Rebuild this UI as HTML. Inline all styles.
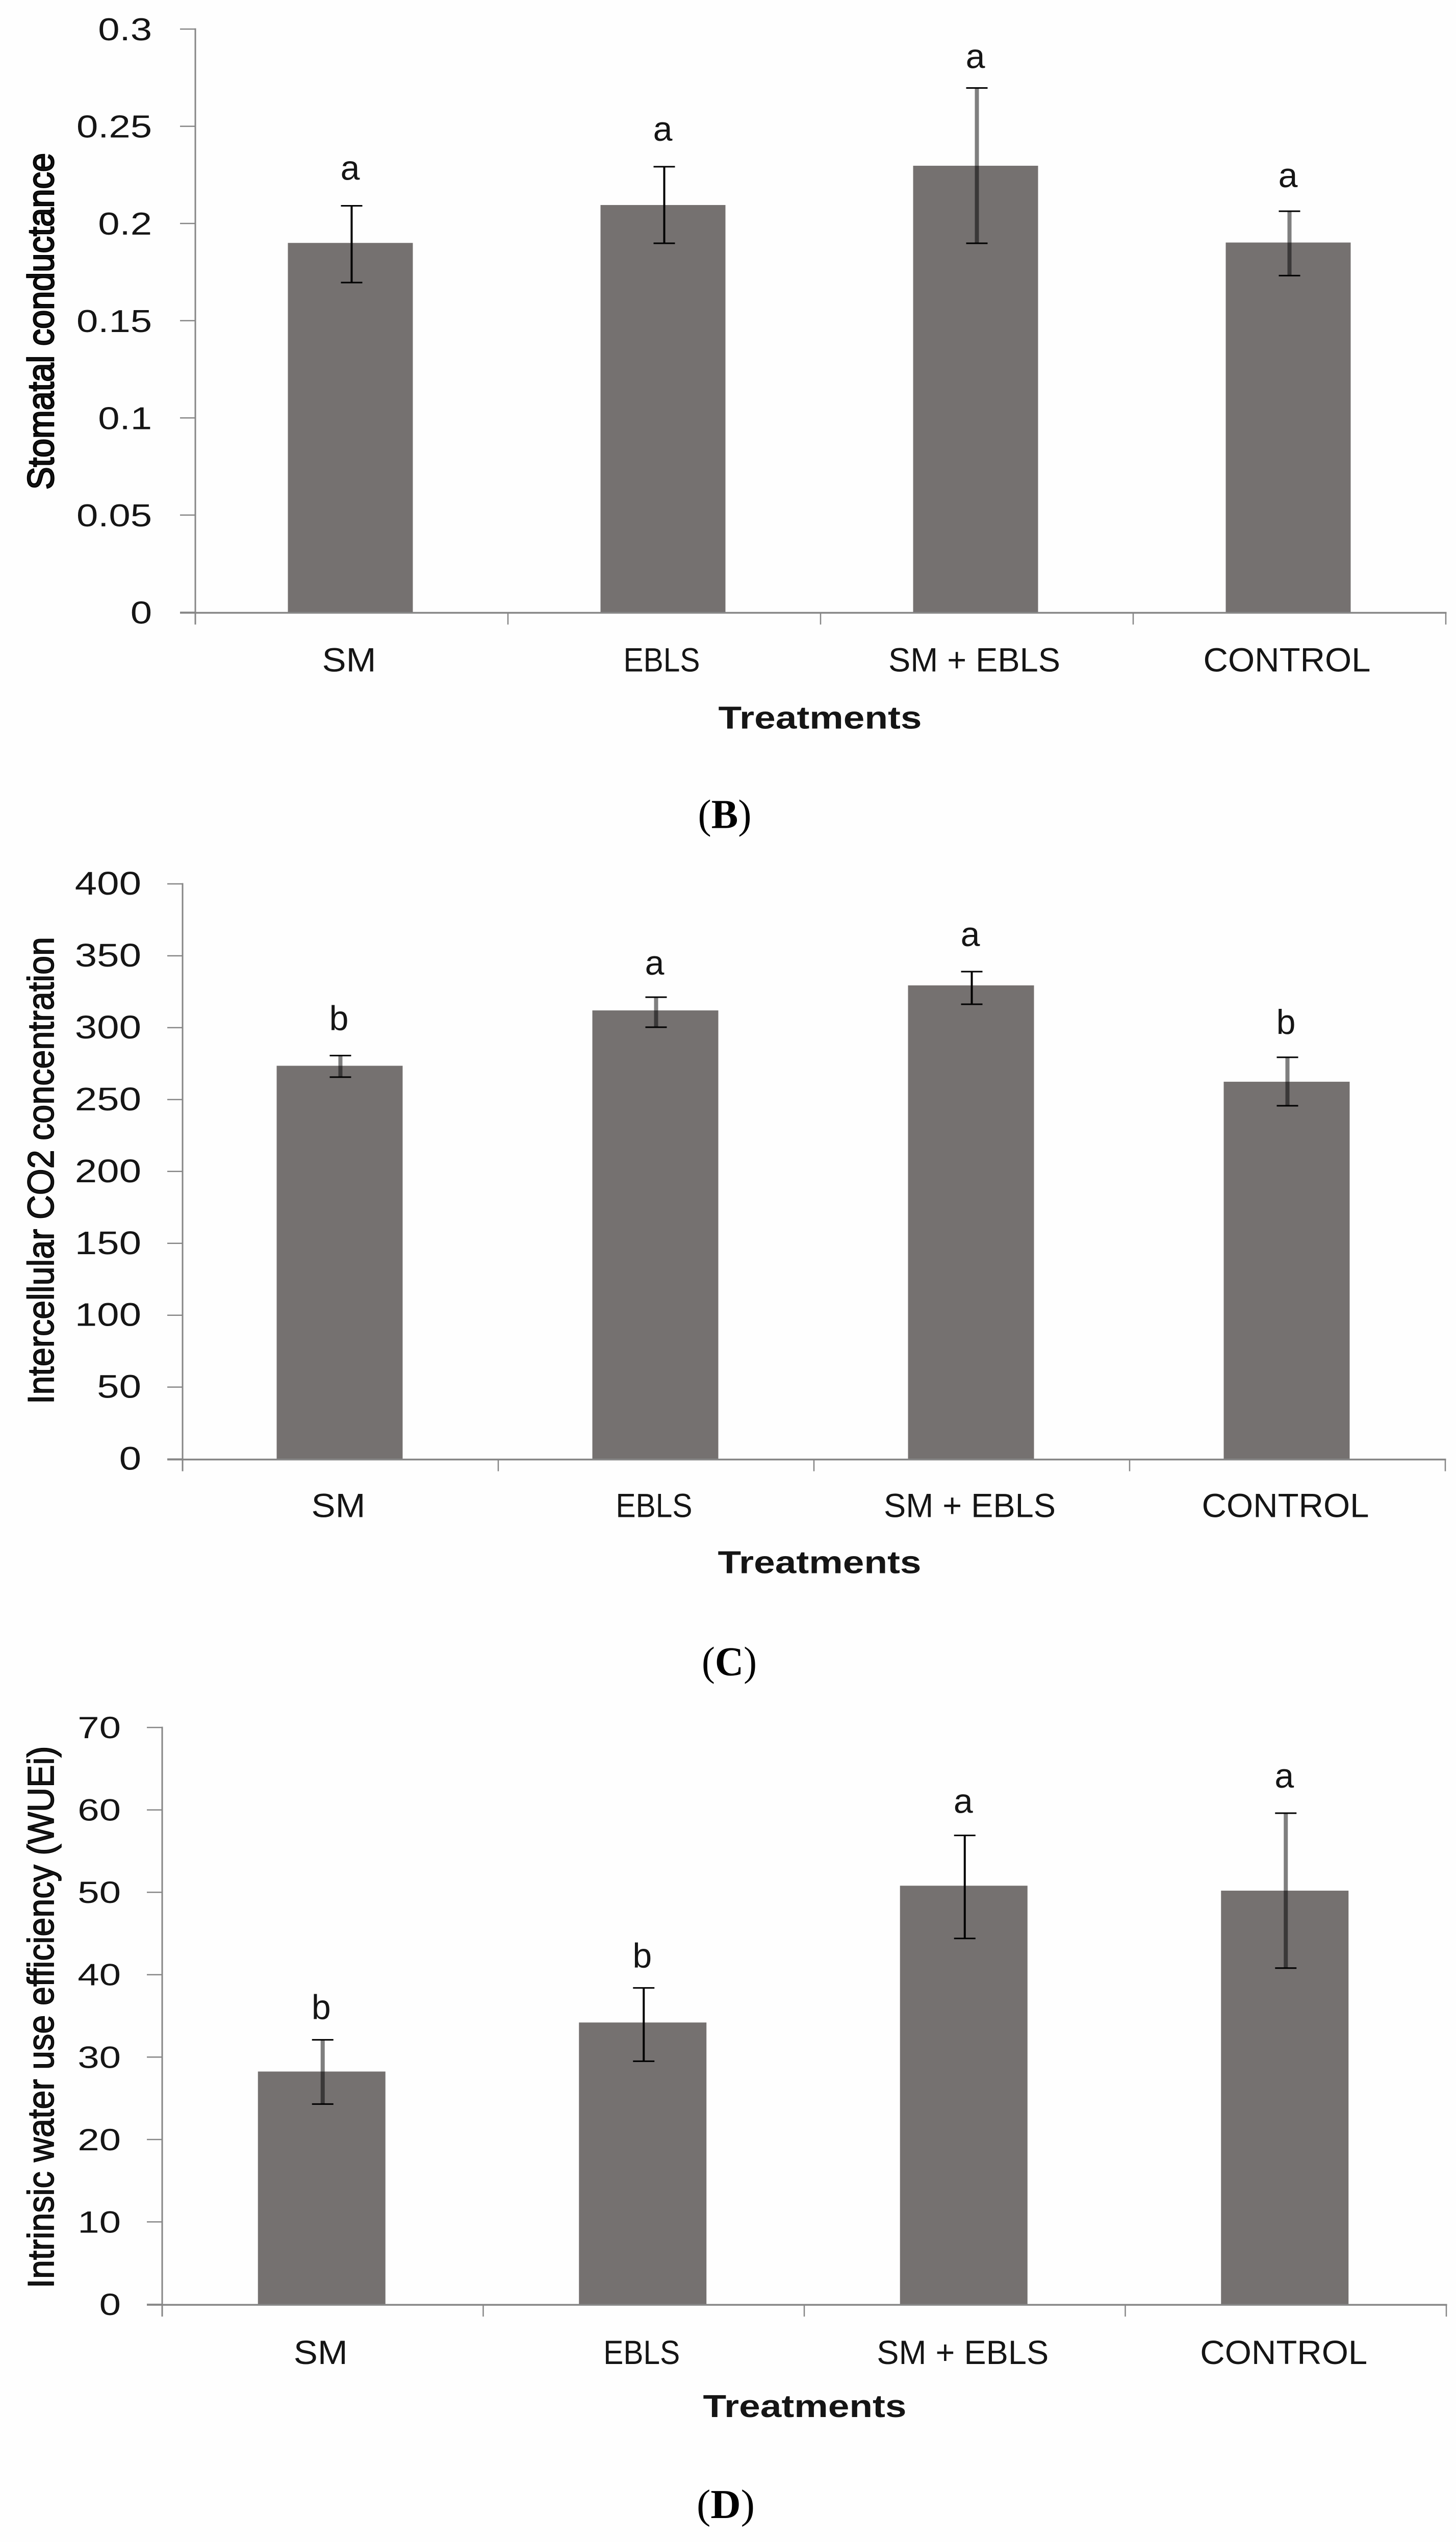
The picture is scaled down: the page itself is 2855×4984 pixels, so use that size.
<!DOCTYPE html>
<html lang="en">
<head>
<meta charset="utf-8">
<title>Stomatal conductance, intercellular CO2 and WUEi by treatment</title>
<style>
  html, body { margin: 0; padding: 0; background: #fefefe; }
  svg { display: block; }
  text { font-family: "Liberation Sans", sans-serif; fill: #151515; }
  .caption { font-family: "Liberation Serif", serif; fill: #000; }
</style>
</head>
<body>
<svg id="figure" xmlns="http://www.w3.org/2000/svg" width="2855" height="4984" viewBox="0 0 2855 4984"></svg>
<script>
// ---- data ----
const categories = ['SM', 'EBLS', 'SM + EBLS', 'CONTROL'];

const bTickLabels = ['0', '0.05', '0.1', '0.15', '0.2', '0.25', '0.3'];
const bValues = [0.19, 0.2095, 0.2297, 0.1902];
const bErrHigh = [0.2091, 0.2292, 0.2697, 0.2063];
const bErrLow = [0.1696, 0.1898, 0.1898, 0.1732];
const bLetters = ['a', 'a', 'a', 'a'];

const cTickLabels = ['0', '50', '100', '150', '200', '250', '300', '350', '400'];
const cValues = [273.5, 312, 329.4, 262.4];
const cErrHigh = [280.6, 321.2, 339, 279.4];
const cErrLow = [265.6, 300.3, 316.3, 245.7];
const cLetters = ['b', 'a', 'a', 'b'];

const dTickLabels = ['0', '10', '20', '30', '40', '50', '60', '70'];
const dValues = [28.25, 34.2, 50.8, 50.2];
const dErrHigh = [32.1, 38.4, 56.9, 59.6];
const dErrLow = [24.3, 29.5, 44.4, 40.8];
const dLetters = ['b', 'b', 'a', 'a'];

// ---- layout (pixels and styling only) ----
const panels = [
  { id: 'b', ticks: bTickLabels, values: bValues, hi: bErrHigh, lo: bErrLow, letters: bLetters,
    x0: 383, step: 613, top: 57, zero: 1200.5, barOffset: -125, barW: 245,
    tickFont: 62, tickSx: 1.227, tickRight: 298, tickDy: 22,
    title: 'Stomatal conductance', titleCy: 630, titleLen: 660, titleStroke: 2.6,
    stems: ['thin', 'thin', 'thick', 'thick'], letterGap: [51, 51, 39, 47],
    caption: 'B', captionX: 1421, captionW: 105, labelDy: 116, labelCx: -5, xTitleDy: 228, xTitleX: 1608, captionDy: 423 },
  { id: 'c', ticks: cTickLabels, values: cValues, hi: cErrHigh, lo: cErrLow, letters: cLetters,
    x0: 358, step: 619, top: 1733, zero: 2860.6, barOffset: -125, barW: 247,
    tickFont: 64, tickSx: 1.22, tickRight: 277, tickDy: 21,
    title: 'Intercellular CO2 concentration', titleCy: 2295, titleLen: 916, titleStroke: 1.6,
    stems: ['thick', 'thick', 'thin', 'thick'], letterGap: [50, 44, 50, 46],
    caption: 'C', captionX: 1430, captionW: 108, labelDy: 114, labelCx: -4, xTitleDy: 224, xTitleX: 1607, captionDy: 424 },
  { id: 'd', ticks: dTickLabels, values: dValues, hi: dErrHigh, lo: dErrLow, letters: dLetters,
    x0: 318, step: 629.5, top: 3387, zero: 4518, barOffset: -127, barW: 250,
    tickFont: 60, tickSx: 1.27, tickRight: 237, tickDy: 21,
    title: 'Intrinsic water use efficiency (WUEi)', titleCy: 3955, titleLen: 1063, titleStroke: 1.6,
    stems: ['thick', 'thin', 'thin', 'thick'], letterGap: [41, 40, 44, 50],
    caption: 'D', captionX: 1423, captionW: 114, labelDy: 117, labelCx: -4, xTitleDy: 221, xTitleX: 1578, captionDy: 419 }
];
const labelWidths = [106, 150, 337, 328];
const BAR_FILL = '#757170';
const AXIS = '#868686';
const SVG_NS = 'http://www.w3.org/2000/svg';
const root = document.getElementById('figure');

function mk(tag, attrs, parent, txt) {
  const el = document.createElementNS(SVG_NS, tag);
  for (const k in attrs) el.setAttribute(k, attrs[k]);
  if (txt !== undefined) el.textContent = txt;
  parent.appendChild(el);
  return el;
}

panels.forEach(function (p) {
  const maxV = Number(p.ticks[p.ticks.length - 1]);
  const yScale = function (v) { return p.zero - (v / maxV) * (p.zero - p.top); };
  const xBand = function (i) { return p.x0 + i * p.step; };
  const xMid = function (i) { return xBand(i) + p.step / 2; };

  const g = mk('g', {}, root);
  
  

  // bars
  p.values.forEach(function (v, i) {
    const bar = mk('rect', { x: xMid(i) + p.barOffset, y: yScale(v), width: p.barW, height: p.zero - yScale(v), fill: BAR_FILL }, g);
    
    
  });

  // axes
  const yAxis = mk('line', { x1: p.x0, x2: p.x0, y1: p.top - 1.5, y2: p.zero + 24, stroke: AXIS, 'stroke-width': 3 }, g);
  
  
  const xAxis = mk('line', { x1: p.x0 - 30, x2: xBand(categories.length) + 1.5, y1: p.zero + 1, y2: p.zero + 1, stroke: AXIS, 'stroke-width': 3.5 }, g);
  
  

  // y ticks and labels
  p.ticks.forEach(function (label) {
    const y = yScale(Number(label));
    const tick = mk('line', { x1: p.x0 - 30, x2: p.x0, y1: y, y2: y, stroke: AXIS, 'stroke-width': 2.5 }, g);
    
    
    const t = mk('text', {
      transform: 'translate(' + p.tickRight + ',' + (y + p.tickDy) + ') scale(' + p.tickSx + ',1)',
      'text-anchor': 'end', 'font-size': p.tickFont
    }, g, label);
    
    
  });

  // x ticks
  for (let i = 1; i <= categories.length; i++) {
    const tick = mk('line', { x1: xBand(i), x2: xBand(i), y1: p.zero, y2: p.zero + 24, stroke: AXIS, 'stroke-width': 2.5 }, g);
    
    
  }

  // x labels
  categories.forEach(function (c, i) {
    const t = mk('text', {
      x: xMid(i) + p.labelCx, y: p.zero + p.labelDy, 'text-anchor': 'middle', 'font-size': 66,
      textLength: labelWidths[i], lengthAdjust: 'spacingAndGlyphs'
    }, g, c);
    
    
  });

  // error bars and significance letters
  p.values.forEach(function (v, i) {
    const cx = xMid(i);
    const thick = p.stems[i] === 'thick';
    const stem = mk('line', {
      x1: cx, x2: cx, y1: yScale(p.hi[i]), y2: yScale(p.lo[i]),
      stroke: '#000', 'stroke-width': thick ? 8 : 4, 'stroke-opacity': thick ? 0.5 : 1
    }, g);
    
    
    [p.hi[i], p.lo[i]].forEach(function (e) {
      const cap = mk('line', { x1: cx - 21, x2: cx + 21, y1: yScale(e), y2: yScale(e), stroke: '#000', 'stroke-width': 3 }, g);
      
      
    });
    const letter = mk('text', {
      x: cx - 3, y: yScale(p.hi[i]) - p.letterGap[i], 'text-anchor': 'middle', 'font-size': 68
    }, g, p.letters[i]);
    
    
  });

  // y axis title
  const yt = mk('text', {
    transform: 'translate(105,' + p.titleCy + ') rotate(-90)', 'text-anchor': 'middle', 'font-size': 72,
    textLength: p.titleLen, lengthAdjust: 'spacingAndGlyphs',
    stroke: '#000', 'stroke-width': p.titleStroke
  }, g, p.title);
  
  

  // x axis title
  const xt = mk('text', {
    x: p.xTitleX, y: p.zero + p.xTitleDy, 'text-anchor': 'middle', 'font-size': 62, 'font-weight': 'bold',
    textLength: 399, lengthAdjust: 'spacingAndGlyphs'
  }, g, 'Treatments');
  
  

  // panel caption
  const cap = mk('text', {
    class: 'caption', x: p.captionX, y: p.zero + p.captionDy, 'text-anchor': 'middle', 'font-size': 80,
    textLength: p.captionW, lengthAdjust: 'spacingAndGlyphs'
  }, g);
  
  
  mk('tspan', {}, cap, '(');
  mk('tspan', { 'font-weight': 'bold' }, cap, p.caption);
  mk('tspan', {}, cap, ')');
});
</script>
</body>
</html>
